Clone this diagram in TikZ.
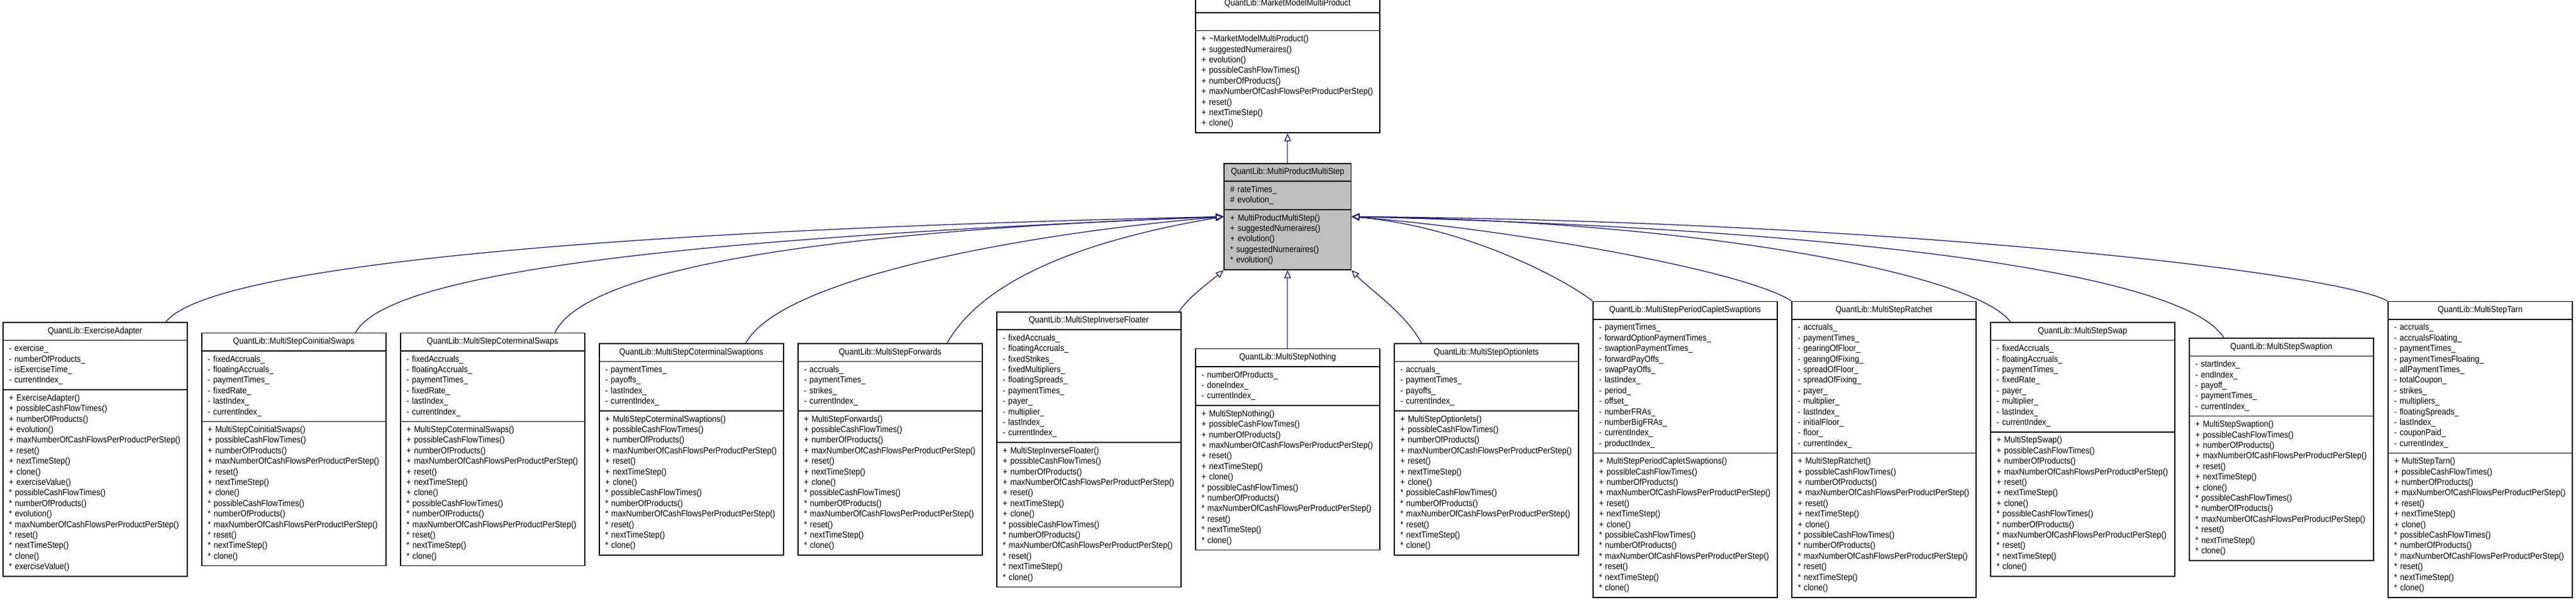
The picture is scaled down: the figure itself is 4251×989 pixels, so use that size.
\documentclass[tikz,border=0pt]{standalone}
\usepackage{fontspec}
\setmainfont[FakeStretch=0.9]{Liberation Sans}
\usetikzlibrary{positioning,shapes.multipart,arrows.meta}

\definecolor{edgeblue}{RGB}{25,25,112}
\definecolor{curgray}{RGB}{191,191,191}

% the operations every MultiStep product has
\newcommand{\stepops}[1]{\strut + #1()\\+ possibleCashFlowTimes()\\+ numberOfProducts()\\+ maxNumberOfCashFlowsPerProductPerStep()\\+ reset()\\+ nextTimeStep()\\+ clone()\\{}* possibleCashFlowTimes()\\{}* numberOfProducts()\\{}* maxNumberOfCashFlowsPerProductPerStep()\\{}* reset()\\{}* nextTimeStep()\\{}* clone()\strut}
\newcommand{\clsname}[1]{\makebox[\hsize]{\strut QuantLib::#1}}

\begin{document}
\begin{tikzpicture}[x=1pt,y=-1pt,node distance=22.4pt,
    cls/.style={rectangle split,rectangle split parts=3,draw=black,fill=white,
      line width=1.6pt,text width=284pt,inner xsep=10pt,inner ysep=5.2pt,align=left,
      font=\fontsize{14.5}{17.4}\selectfont},
    curcls/.style={cls,fill=curgray,text width=189.4pt},
    inherit/.style={draw=edgeblue,line width=1.3pt,-{Triangle[open,length=13pt,width=11pt]}}]
  \useasboundingbox (0,0) rectangle (4251,989);

  % derived classes
  \node[cls,anchor=west] (ea) at (4,741.5) {\clsname{ExerciseAdapter}
    \nodepart{two}\strut - exercise\_\\- numberOfProducts\_\\- isExerciseTime\_\\- currentIndex\_\strut
    \nodepart{three}\strut + ExerciseAdapter()\\+ possibleCashFlowTimes()\\+ numberOfProducts()\\+ evolution()\\+ maxNumberOfCashFlowsPerProductPerStep()\\+ reset()\\+ nextTimeStep()\\+ clone()\\+ exerciseValue()\\{}* possibleCashFlowTimes()\\{}* numberOfProducts()\\{}* evolution()\\{}* maxNumberOfCashFlowsPerProductPerStep()\\{}* reset()\\{}* nextTimeStep()\\{}* clone()\\{}* exerciseValue()\strut};
  \node[cls] (cis) [right=of ea] {\clsname{MultiStepCoinitialSwaps}
    \nodepart{two}\strut - fixedAccruals\_\\- floatingAccruals\_\\- paymentTimes\_\\- fixedRate\_\\- lastIndex\_\\- currentIndex\_\strut
    \nodepart{three}\stepops{MultiStepCoinitialSwaps}};
  \node[cls] (cts) [right=of cis] {\clsname{MultiStepCoterminalSwaps}
    \nodepart{two}\strut - fixedAccruals\_\\- floatingAccruals\_\\- paymentTimes\_\\- fixedRate\_\\- lastIndex\_\\- currentIndex\_\strut
    \nodepart{three}\stepops{MultiStepCoterminalSwaps}};
  \node[cls] (ctn) [right=of cts] {\clsname{MultiStepCoterminalSwaptions}
    \nodepart{two}\strut - paymentTimes\_\\- payoffs\_\\- lastIndex\_\\- currentIndex\_\strut
    \nodepart{three}\stepops{MultiStepCoterminalSwaptions}};
  \node[cls] (fwd) [right=of ctn] {\clsname{MultiStepForwards}
    \nodepart{two}\strut - accruals\_\\- paymentTimes\_\\- strikes\_\\- currentIndex\_\strut
    \nodepart{three}\stepops{MultiStepForwards}};
  \node[cls] (inv) [right=of fwd] {\clsname{MultiStepInverseFloater}
    \nodepart{two}\strut - fixedAccruals\_\\- floatingAccruals\_\\- fixedStrikes\_\\- fixedMultipliers\_\\- floatingSpreads\_\\- paymentTimes\_\\- payer\_\\- multiplier\_\\- lastIndex\_\\- currentIndex\_\strut
    \nodepart{three}\stepops{MultiStepInverseFloater}};
  \node[cls] (nth) [right=of inv] {\clsname{MultiStepNothing}
    \nodepart{two}\strut - numberOfProducts\_\\- doneIndex\_\\- currentIndex\_\strut
    \nodepart{three}\stepops{MultiStepNothing}};
  \node[cls] (opt) [right=of nth] {\clsname{MultiStepOptionlets}
    \nodepart{two}\strut - accruals\_\\- paymentTimes\_\\- payoffs\_\\- currentIndex\_\strut
    \nodepart{three}\stepops{MultiStepOptionlets}};
  \node[cls] (pcs) [right=of opt] {\clsname{MultiStepPeriodCapletSwaptions}
    \nodepart{two}\strut - paymentTimes\_\\- forwardOptionPaymentTimes\_\\- swaptionPaymentTimes\_\\- forwardPayOffs\_\\- swapPayOffs\_\\- lastIndex\_\\- period\_\\- offset\_\\- numberFRAs\_\\- numberBigFRAs\_\\- currentIndex\_\\- productIndex\_\strut
    \nodepart{three}\stepops{MultiStepPeriodCapletSwaptions}};
  \node[cls] (rat) [right=of pcs] {\clsname{MultiStepRatchet}
    \nodepart{two}\strut - accruals\_\\- paymentTimes\_\\- gearingOfFloor\_\\- gearingOfFixing\_\\- spreadOfFloor\_\\- spreadOfFixing\_\\- payer\_\\- multiplier\_\\- lastIndex\_\\- initialFloor\_\\- floor\_\\- currentIndex\_\strut
    \nodepart{three}\stepops{MultiStepRatchet}};
  \node[cls] (swp) [right=of rat] {\clsname{MultiStepSwap}
    \nodepart{two}\strut - fixedAccruals\_\\- floatingAccruals\_\\- paymentTimes\_\\- fixedRate\_\\- payer\_\\- multiplier\_\\- lastIndex\_\\- currentIndex\_\strut
    \nodepart{three}\stepops{MultiStepSwap}};
  \node[cls] (swn) [right=of swp] {\clsname{MultiStepSwaption}
    \nodepart{two}\strut - startIndex\_\\- endIndex\_\\- payoff\_\\- paymentTimes\_\\- currentIndex\_\strut
    \nodepart{three}\stepops{MultiStepSwaption}};
  \node[cls] (tarn) [right=of swn] {\clsname{MultiStepTarn}
    \nodepart{two}\strut - accruals\_\\- accrualsFloating\_\\- paymentTimes\_\\- paymentTimesFloating\_\\- allPaymentTimes\_\\- totalCoupon\_\\- strikes\_\\- multipliers\_\\- floatingSpreads\_\\- lastIndex\_\\- couponPaid\_\\- currentIndex\_\strut
    \nodepart{three}\stepops{MultiStepTarn}};

  % base classes
  \node[curcls] (mpms) [above=129pt of nth] {\clsname{MultiProductMultiStep}
    \nodepart{two}\strut \# rateTimes\_\\\# evolution\_\strut
    \nodepart{three}\strut + MultiProductMultiStep()\\+ suggestedNumeraires()\\+ evolution()\\{}* suggestedNumeraires()\\{}* evolution()\strut};
  \node[cls] (mmp) [above=49pt of mpms] {\clsname{MarketModelMultiProduct}
    \nodepart{two}\strut
    \nodepart{three}\strut + \textasciitilde MarketModelMultiProduct()\\+ suggestedNumeraires()\\+ evolution()\\+ possibleCashFlowTimes()\\+ numberOfProducts()\\+ maxNumberOfCashFlowsPerProductPerStep()\\+ reset()\\+ nextTimeStep()\\+ clone()\strut};

  % inheritance
  \draw[inherit] (mpms.north) -- (mmp.south);
  \draw[inherit] ([xshift=117pt]ea.north) .. controls +(56,-75) and +(-1220,27) .. (mpms.west);
  \draw[inherit] ([xshift=102pt]cis.north) .. controls +(53,-97) and +(-920,37) .. (mpms.west);
  \draw[inherit] ([xshift=103pt]cts.north) .. controls +(54,-111) and +(-620,22) .. (mpms.west);
  \draw[inherit] ([xshift=90pt]ctn.north) .. controls +(59,-109) and +(-320,27) .. (mpms.west);
  \draw[inherit] ([xshift=94pt]fwd.north) .. controls +(62,-109) and +(-220,37) .. (mpms.west);
  \draw[inherit] ([xshift=149pt]inv.north) .. controls +(14,-22) and +(-25,21) .. (mpms.south west);
  \draw[inherit] (nth.north) -- (mpms.south);
  \draw[inherit] ([xshift=-107pt]opt.north) .. controls +(-26,-49) and +(29,31) .. (mpms.south east);
  \draw[inherit] (pcs.north west) .. controls +(-48,-37) and +(189,17) .. (mpms.east);
  \draw[inherit] (rat.north west) .. controls +(-76,-50) and +(269,22) .. (mpms.east);
  \draw[inherit] ([xshift=-119pt]swp.north) .. controls +(-58,-80) and +(569,7) .. (mpms.east);
  \draw[inherit] ([xshift=-95pt]swn.north) .. controls +(-60,-101) and +(869,22) .. (mpms.east);
  \draw[inherit] (tarn.north west) .. controls +(-91,-49) and +(869,7) .. (mpms.east);
\end{tikzpicture}
\end{document}
